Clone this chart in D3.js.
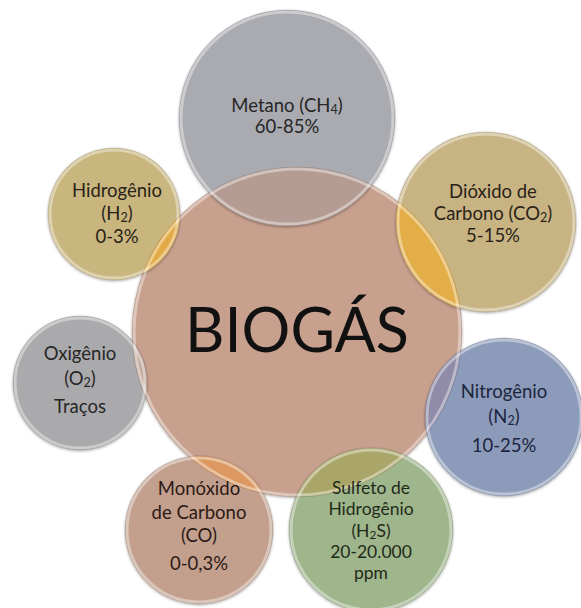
<!DOCTYPE html>
<html><head><meta charset="utf-8">
<script src="https://cdn.jsdelivr.net/npm/d3@7"></script>
<style>html,body{margin:0;padding:0;background:#fff;}svg{display:block;}</style>
</head><body><div id="chart"></div>
<script>
// ---- data ----
const centerLabel = "BIOGÁS";
const gases = ["Metano", "Dióxido de Carbono", "Nitrogênio", "Sulfeto de Hidrogênio", "Monóxido de Carbono", "Oxigênio", "Hidrogênio"];
// label lines; "_x" marks subscript x
const gasLines = [
  ["Metano (CH_4)"],
  ["Dióxido de", "Carbono (CO_2)"],
  ["Nitrogênio", "(N_2)"],
  ["Sulfeto de", "Hidrogênio", "(H_2S)"],
  ["Monóxido", "de Carbono", "(CO)"],
  ["Oxigênio", "(O_2)"],
  ["Hidrogênio", "(H_2)"]
];
const gasValues = ["60-85%", "5-15%", "10-25%", "20-20.000 ppm", "0-0,3%", "Traços", "0-3%"];

// ---- layout / style ----
const W = 581, H = 608;
const centerPos = {x: 297, y: 332, r: 165};
const nodeX = [287, 486, 504, 371, 199, 80, 114];
const nodeY = [118, 222, 417, 530, 530, 383, 214];
const nodeR = [108, 90, 79, 82, 74, 67, 66];
const nodeFill = ["#aaabb0", "#c8b483", "#8c9bb9", "#9fb58c", "#c3a08e", "#aaaaac", "#c8b67e"];
const lensFill = ["#b49c92", "#e3ad47", "#8f8ba9", "#aaa66a", "#dc9860", "#c2a89c", "#e2aa44"];
const textFill = ["#262626", "#2a2218", "#1c2540", "#1f2a18", "#2c1a14", "#262626", "#2a2218"];
// baseline of first line, line gap, extra gap before value
const firstBase = [112, 198, 398, 494, 495, 360, 197];
const lineGap = [21, 22, 25, 21.3, 23.5, 25, 23];
const valueGap = [0, 0, 4, 0, 4.5, 3, 0];
const textShift = [0, 7, 0, 0, 0, 0, 3];
const fontSize = [18.5, 18.5, 18.5, 17.5, 18.5, 18.5, 18.5];
const centerFill = "#c8a08e";

const svg = d3.select("#chart").append("svg").attr("width", W).attr("height", H)
  .style("font-family", "Lato, 'Open Sans', sans-serif");
const defs = svg.append("defs");

const nodes = gases.map((g, i) => ({name: g, x: nodeX[i], y: nodeY[i], r: nodeR[i], i}));

// soft shadow filter
const f = defs.append("filter").attr("id", "sh").attr("x", "-10%").attr("y", "-10%").attr("width", "120%").attr("height", "120%");
f.append("feGaussianBlur").attr("in", "SourceAlpha").attr("stdDeviation", 1.5).attr("result", "b");
f.append("feOffset").attr("in", "b").attr("dx", 0).attr("dy", 1).attr("result", "o");
f.append("feComponentTransfer").attr("in", "o").attr("result", "o2")
  .append("feFuncA").attr("type", "linear").attr("slope", 0.35);
const fm = f.append("feMerge");
fm.append("feMergeNode").attr("in", "o2");
fm.append("feMergeNode").attr("in", "SourceGraphic");

defs.append("clipPath").attr("id", "clipCenter")
  .append("circle").attr("cx", centerPos.x).attr("cy", centerPos.y).attr("r", centerPos.r);

const gFill = svg.append("g");
gFill.append("circle").attr("cx", centerPos.x).attr("cy", centerPos.y).attr("r", centerPos.r)
  .attr("fill", centerFill).attr("filter", "url(#sh)");
gFill.selectAll("circle.node").data(nodes).join("circle").attr("class", "node")
  .attr("cx", d => d.x).attr("cy", d => d.y).attr("r", d => d.r)
  .attr("fill", d => nodeFill[d.i]).attr("filter", "url(#sh)");
// lenses (overlap with center)
svg.append("g").attr("clip-path", "url(#clipCenter)")
  .selectAll("circle").data(nodes).join("circle")
  .attr("cx", d => d.x).attr("cy", d => d.y).attr("r", d => d.r)
  .attr("fill", d => lensFill[d.i]);

// glossy rims
const rims = [{x: centerPos.x, y: centerPos.y, r: centerPos.r}].concat(nodes);
const gRim = svg.append("g").attr("fill", "none");
gRim.selectAll("circle.rimA").data(rims).join("circle").attr("class", "rimA")
  .attr("cx", d => d.x).attr("cy", d => d.y).attr("r", d => d.r - 2)
  .attr("stroke", "#ffffff").attr("stroke-opacity", 0.4).attr("stroke-width", 3);
gRim.selectAll("circle.rimB").data(rims).join("circle").attr("class", "rimB")
  .attr("cx", d => d.x).attr("cy", d => d.y).attr("r", d => d.r)
  .attr("stroke", "#000").attr("stroke-opacity", 0.10).attr("stroke-width", 1);

// labels
function addLine(textSel, str, x, y) {
  const t = textSel.append("tspan").attr("x", x).attr("y", y);
  str.split(/(_\d)/).forEach(p => {
    if (!p) return;
    if (p[0] === "_") {
      t.append("tspan").attr("font-size", "0.68em").attr("baseline-shift", "-18%").text(p.slice(1));
    } else {
      t.append("tspan").text(p);
    }
  });
}
nodes.forEach(d => {
  const txt = svg.append("text").attr("text-anchor", "middle").attr("font-size", fontSize[d.i])
    .attr("fill", textFill[d.i]);
  const cx = d.x + textShift[d.i];
  let y = firstBase[d.i];
  gasLines[d.i].forEach(ln => { addLine(txt, ln, cx, y); y += lineGap[d.i]; });
  y += valueGap[d.i];
  if (d.i === 3) {
    gasValues[d.i].split(" ").forEach(v => { addLine(txt, v, cx, y); y += lineGap[d.i]; });
  } else {
    addLine(txt, gasValues[d.i], cx, y);
  }
});

svg.append("text").attr("x", centerPos.x).attr("y", 352).attr("text-anchor", "middle")
  .attr("font-size", 61).attr("fill", "#111").text(centerLabel);
</script>
</body></html>
